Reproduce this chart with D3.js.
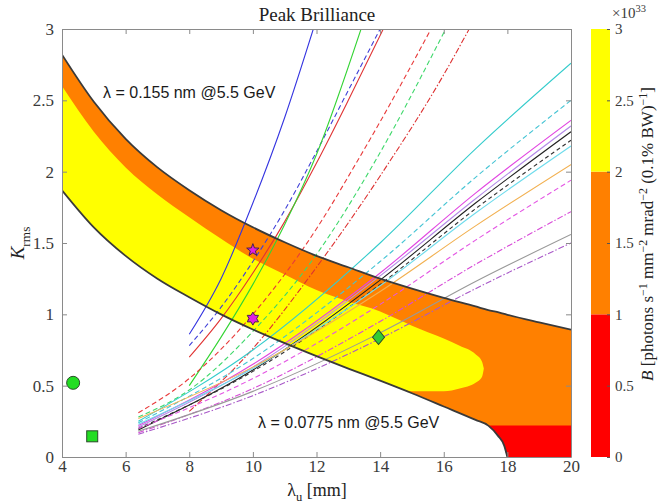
<!DOCTYPE html>
<html>
<head>
<meta charset="utf-8">
<title>Peak Brilliance</title>
<script src="https://cdn.jsdelivr.net/npm/d3@7"></script>
<style>
  body { margin: 0; background: #fff; }
  text { font-family: "Liberation Serif", "Times New Roman", serif; }
</style>
</head>
<body>
<script>
// ---- data ----
// boundary curves (lambda_u in mm, K_rms)
var lamBand   = [4, 5, 6, 7, 8, 9, 10, 11, 12, 13, 14, 15, 16, 17, 17.4, 17.7, 17.9, 18, 19, 20];
var kUpper    = [2.82, 2.49, 2.23, 2.03, 1.87, 1.73, 1.61, 1.505, 1.41, 1.33, 1.25, 1.18, 1.115, 1.055, 1.03, 1.015, 1.003, 0.997, 0.943, 0.892];
var kLower    = [1.87, 1.61, 1.41, 1.25, 1.12, 1.0, 0.894, 0.798, 0.707, 0.62, 0.535, 0.447, 0.354, 0.26, 0.22, 0.15, 0.08, 0, 0, 0];
// yellow zone (B > 2e33)
var lamYellow = [4, 5, 6, 7, 8, 9, 10, 11, 12, 13, 14, 14.5, 15, 16, 16.5, 17, 17.2, 17.26];
var yellowTop = [2.60, 2.28, 2.03, 1.84, 1.68, 1.53, 1.39, 1.28, 1.17, 1.09, 1.02, 0.97, 0.92, 0.83, 0.78, 0.72, 0.67, 0.62];
var yellowBot = [1.87, 1.61, 1.41, 1.25, 1.12, 1.0, 0.894, 0.798, 0.707, 0.62, 0.535, 0.49, 0.46, 0.46, 0.48, 0.52, 0.56, 0.62];
// red zone (B < 1e33)
var lamRed    = [17.4, 17.7, 17.9, 18, 19, 20];
var redTop    = [0.22, 0.22, 0.22, 0.22, 0.22, 0.22];
var redBot    = [0.22, 0.15, 0.08, 0, 0, 0];

// undulator curves
var lineLam = [
  [8, 9, 10, 11, 11.9],
  [8, 9, 10, 11, 12, 13, 14],
  [8, 9, 10, 11, 12, 13, 14.1],
  [8, 9, 10, 11, 12, 13.4],
  [6.4, 8, 10, 12, 13.3, 14, 15.6],
  [6.4, 8, 10, 12, 13.86, 16.06],
  [8, 10, 12, 14, 16, 16.8],
  [6.4, 10, 14, 17, 20],
  [6.4, 10, 14, 17, 20],
  [6.4, 10, 14, 17, 20],
  [6.4, 10, 14, 17, 20],
  [6.4, 10, 14, 17, 20],
  [6.4, 10, 14, 17, 20],
  [6.4, 10, 14, 17, 20],
  [6.4, 10, 14, 17, 20],
  [6.4, 10, 14, 17, 20],
  [6.4, 10, 14, 17, 20],
  [6.4, 10, 14, 17, 20],
  [6.4, 10, 14, 17, 20]
];
var lineK = [
  [0.86, 1.25, 1.78, 2.38, 3.0],
  [0.78, 1.05, 1.37, 1.73, 2.14, 2.57, 3.0],
  [0.70, 0.97, 1.29, 1.65, 2.06, 2.5, 3.0],
  [0.50, 0.84, 1.21, 1.63, 2.12, 3.0],
  [0.31, 0.55, 1.0, 1.6, 2.08, 2.35, 3.0],
  [0.28, 0.47, 0.88, 1.42, 2.08, 3.0],
  [0.32, 0.76, 1.33, 1.97, 2.68, 3.0],
  [0.25, 0.75, 1.5, 2.16, 2.76],
  [0.24, 0.69, 1.37, 1.96, 2.50],
  [0.22, 0.65, 1.29, 1.85, 2.36],
  [0.21, 0.63, 1.27, 1.81, 2.32],
  [0.19, 0.61, 1.24, 1.78, 2.28],
  [0.20, 0.60, 1.21, 1.74, 2.22],
  [0.23, 0.62, 1.20, 1.71, 2.18],
  [0.27, 0.63, 1.16, 1.62, 2.05],
  [0.20, 0.55, 1.07, 1.52, 1.94],
  [0.17, 0.48, 0.95, 1.35, 1.72],
  [0.18, 0.46, 0.87, 1.23, 1.56],
  [0.16, 0.43, 0.83, 1.18, 1.50]
];
// design points
var pointLam = [10, 10, 13.95, 4.35, 4.95];
var pointK   = [1.45, 0.97, 0.84, 0.52, 0.145];

var xTicks = [4, 6, 8, 10, 12, 14, 16, 18, 20];
var yTicks = [0, 0.5, 1, 1.5, 2, 2.5, 3];
var yTickLabels = ["0", "0.5", "1", "1.5", "2", "2.5", "3"];
var cbLevels = [0, 1, 2, 3];
var cbTickLabels = ["0", "0.5", "1", "1.5", "2", "2.5", "3"];

// ---- styles ----
var lineColor = ["#3434e0", "#4040d8", "#e03434", "#33d433", "#e83a3a", "#3ed86a", "#dd3030",
  "#35cccc", "#45c4d4", "#e246e2", "#b48ae8", "#222222", "#333333", "#6fdcec", "#f2b050",
  "#e455e4", "#d84ad8", "#999999", "#a858c8"];
var lineDash = ["", "5,3", "", "", "5,3", "5,3", "6,2,1.5,2",
  "", "5,3", "", "", "", "4,3", "", "",
  "5,3", "6,2,1.5,2", "", "6,2,1.5,2"];
var cbColors = ["#ff0000", "#ff8000", "#ffff00"];

var svg = d3.select("body").append("svg")
  .attr("width", 658).attr("height", 503);

var x = d3.scaleLinear().domain([4, 20]).range([62, 571]);
var y = d3.scaleLinear().domain([0, 3]).range([457, 29]);

svg.append("clipPath").attr("id", "plotclip")
  .append("rect").attr("x", 62).attr("y", 29).attr("width", 509).attr("height", 428);

var plot = svg.append("g").attr("clip-path", "url(#plotclip)");

function area(lam, top, bot) {
  return d3.area()
    .x(function(d, i) { return x(lam[i]); })
    .y0(function(d, i) { return y(bot[i]); })
    .y1(function(d, i) { return y(top[i]); })
    .curve(d3.curveMonotoneX)(lam);
}
plot.append("path").attr("d", area(lamBand, kUpper, kLower)).attr("fill", "#ff8000");
plot.append("path").attr("d", area(lamRed, redTop, redBot)).attr("fill", "#ff0000");
plot.append("path").attr("d", area(lamYellow, yellowTop, yellowBot)).attr("fill", "#ffff00");

var line = d3.line()
  .x(function(d) { return x(d[0]); })
  .y(function(d) { return y(d[1]); })
  .curve(d3.curveMonotoneX);

// undulator lines
lineLam.forEach(function(lam, j) {
  plot.append("path")
    .attr("d", line(lam.map(function(v, i) { return [v, lineK[j][i]]; })))
    .attr("fill", "none")
    .attr("stroke", lineColor[j])
    .attr("stroke-width", 1.1)
    .attr("stroke-dasharray", lineDash[j] || null);
});

// boundary curves
var upperPts = lamBand.map(function(v, i) { return [v, kUpper[i]]; });
var lowerPts = lamBand.map(function(v, i) { return [v, kLower[i]]; }).filter(function(d) { return d[0] <= 18; });
[upperPts, lowerPts].forEach(function(p) {
  plot.append("path").attr("d", line(p))
    .attr("fill", "none").attr("stroke", "#3a3a3a").attr("stroke-width", 1.8);
});

// markers
function star(cx, cy, n, R, r) {
  var p = [];
  for (var i = 0; i < 2 * n; i++) {
    var a = -Math.PI / 2 + i * Math.PI / n;
    var rr = i % 2 ? r : R;
    p.push([cx + rr * Math.cos(a), cy + rr * Math.sin(a)]);
  }
  return "M" + p.join("L") + "Z";
}
var mk = svg.append("g").attr("stroke", "#4a2050").attr("stroke-width", 1);
mk.append("path").attr("d", star(x(pointLam[0]), y(pointK[0]), 5, 6.5, 2.7)).attr("fill", "#e020e0");
mk.append("path").attr("d", star(x(pointLam[1]), y(pointK[1]), 6, 6.5, 3.8)).attr("fill", "#e020e0");
mk.append("path")
  .attr("d", d3.symbol().type(d3.symbolSquare).size(100)())
  .attr("transform", "translate(" + x(pointLam[2]) + "," + y(pointK[2]) + ") scale(0.85,1.05) rotate(45)")
  .attr("fill", "#33cc33").attr("stroke", "#2a4a2a");
mk.append("circle").attr("cx", x(pointLam[3])).attr("cy", y(pointK[3])).attr("r", 6.5)
  .attr("fill", "#22dd22").attr("stroke", "#2a4a2a");
mk.append("rect").attr("x", x(pointLam[4]) - 5.5).attr("y", y(pointK[4]) - 5.5)
  .attr("width", 11).attr("height", 11)
  .attr("fill", "#22dd22").attr("stroke", "#2a4a2a");

// annotations
svg.append("text").attr("x", 103).attr("y", 98)
  .style("font-family", "'Liberation Sans', Arial, sans-serif").style("font-size", "16px")
  .attr("fill", "#1a1a1a").text("λ = 0.155 nm @5.5 GeV");
svg.append("text").attr("x", 258).attr("y", 428)
  .style("font-family", "'Liberation Sans', Arial, sans-serif").style("font-size", "16px")
  .attr("fill", "#1a1a1a").text("λ = 0.0775 nm @5.5 GeV");

// axes
function styleAxis(g) {
  g.select(".domain").attr("stroke", "#8a8a8a");
  g.selectAll(".tick line").attr("stroke", "#8a8a8a");
  g.selectAll(".tick text").attr("fill", "#3a3a3a")
    .style("font-family", "'Liberation Serif', serif").style("font-size", "17px");
}
svg.append("g").attr("transform", "translate(0,457)")
  .call(d3.axisBottom(x).tickValues(xTicks).tickSize(-5).tickSizeOuter(0).tickPadding(3).tickFormat(d3.format("d")))
  .call(styleAxis);
svg.append("g").attr("transform", "translate(0,29)")
  .call(d3.axisTop(x).tickValues(xTicks).tickSize(-5).tickSizeOuter(0).tickFormat(""))
  .call(styleAxis);
svg.append("g").attr("transform", "translate(62,0)")
  .call(d3.axisLeft(y).tickValues(yTicks).tickSize(-5).tickSizeOuter(0).tickPadding(8)
    .tickFormat(function(d, i) { return yTickLabels[i]; }))
  .call(styleAxis);
svg.append("g").attr("transform", "translate(571,0)")
  .call(d3.axisRight(y).tickValues(yTicks).tickSize(-5).tickSizeOuter(0).tickFormat(""))
  .call(styleAxis);

// colorbar
var yc = d3.scaleLinear().domain([0, 3]).range([457, 29]);
svg.selectAll("rect.cb").data(cbColors).enter().append("rect")
  .attr("class", "cb")
  .attr("x", 591).attr("width", 19)
  .attr("y", function(d, i) { return yc(cbLevels[i + 1]); })
  .attr("height", function(d, i) { return yc(cbLevels[i]) - yc(cbLevels[i + 1]); })
  .attr("fill", function(d) { return d; });
var cbAxis = svg.append("g").attr("transform", "translate(610,0)")
  .call(d3.axisRight(yc).tickValues(yTicks).tickSize(-3).tickSizeOuter(0).tickPadding(5)
    .tickFormat(function(d, i) { return cbTickLabels[i]; }))
  .call(styleAxis);
cbAxis.select(".domain").remove();
cbAxis.selectAll(".tick line").attr("stroke", "#555");
cbAxis.selectAll(".tick text").style("font-size", "15px");

function rich(t, parts, base, lift) {
  var up = base * (lift || 0.4);
  parts.forEach(function(p) {
    var ts = t.append("tspan").text(p[0]);
    if (p[1] === "sup") ts.attr("dy", -up).style("font-size", (base * 0.7) + "px");
    if (p[1] === "sub") ts.attr("dy", base * 0.3).style("font-size", (base * 0.7) + "px");
    if (p[1] === "back") ts.attr("dy", up);
    if (p[1] === "up") ts.attr("dy", -base * 0.3);
    if (p[2]) ts.style("font-style", "italic");
  });
}

// ×10^33
var ex = svg.append("text").attr("x", 612).attr("y", 18).style("font-size", "15px").attr("fill", "#3a3a3a");
rich(ex, [["×10"], ["33", "sup"]], 15);

// colorbar label
var cbl = svg.append("text")
  .attr("transform", "translate(653,234) rotate(-90)")
  .attr("text-anchor", "middle").style("font-size", "17px").attr("fill", "#222");
rich(cbl, [["B", null, true], [" [photons s"], ["−1", "sup"], [" mm", "back"], ["−2", "sup"],
  [" mrad", "back"], ["−2", "sup"], [" (0.1% BW)", "back"], ["−1", "sup"], ["]", "back"]], 17, 0.33);

// title
svg.append("text").attr("x", 317).attr("y", 21).attr("text-anchor", "middle")
  .style("font-size", "19px").attr("fill", "#222").text("Peak Brilliance");

// x label
var xl = svg.append("text").attr("x", 317).attr("y", 496).attr("text-anchor", "middle")
  .style("font-size", "18px").attr("fill", "#222");
rich(xl, [["λ"], ["u", "sub"], [" [mm]", "up"]], 18);

// y label
var yl = svg.append("text").attr("transform", "translate(24,243) rotate(-90)")
  .attr("text-anchor", "middle").style("font-size", "19px").attr("fill", "#222");
rich(yl, [["K", null, true], ["rms", "sub"]], 19);
</script>
</body>
</html>
